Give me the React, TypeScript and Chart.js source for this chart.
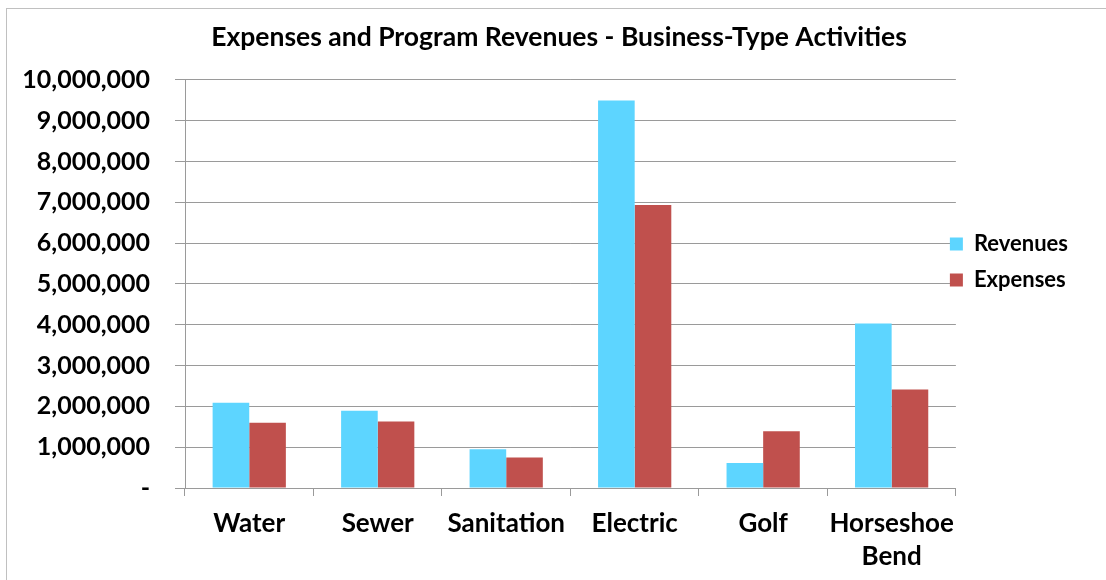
import React, { useEffect, useRef } from "react";
import { Chart, registerables } from "chart.js";

Chart.register(...registerables);

const categories: (string | string[])[] = ["Water", "Sewer", "Sanitation", "Electric", "Golf", ["Horseshoe", "Bend"]];
const revenues = [2090000, 1890000, 950000, 9490000, 610000, 4030000];
const expenses = [1600000, 1630000, 745000, 6930000, 1390000, 2410000];
const titleText = "Expenses and Program Revenues - Business-Type Activities";
const FONT = "Lato, 'Open Sans', sans-serif";

const legendShift = {
  id: "legendShift",
  afterLayout(chart: any) {
    const lg = chart.legend;
    if (!lg) return;
    lg.left -= 20;
    lg.right -= 20;
    lg.top -= 28;
    lg.bottom -= 28;
  },
};

export default function App() {
  const ref = useRef<HTMLCanvasElement>(null);
  useEffect(() => {
    document.body.style.margin = "0";
    const ctx = ref.current!;
    const chart = new Chart(ctx, {
      type: "bar",
      data: {
        labels: categories,
        datasets: [
          { label: "Revenues", data: revenues, backgroundColor: "#5DD5FF", borderWidth: 0 },
          { label: "Expenses", data: expenses, backgroundColor: "#C0504D", borderWidth: 0 },
        ],
      },
      plugins: [legendShift],
      options: {
        animation: false,
        responsive: false,
        maintainAspectRatio: false,
        layout: { padding: { left: 20, right: 8, top: 0, bottom: 0 } },
        datasets: { bar: { categoryPercentage: 0.57, barPercentage: 1 } },
        plugins: {
          title: {
            display: true,
            text: titleText,
            color: "#000",
            font: { family: FONT, size: 26.5, weight: "bold", lineHeight: 1.2 },
            padding: { top: 22, bottom: 26 },
          },
          legend: {
            position: "right",
            align: "center",
            labels: {
              color: "#000",
              boxWidth: 13,
              boxHeight: 13,
              padding: 14,
              font: { family: FONT, size: 22, weight: "bold" },
            },
          },
          tooltip: { enabled: false },
        },
        scales: {
          x: {
            offset: true,
            afterFit: (s: any) => { s.height = 92; },
            grid: { display: true, offset: true, drawOnChartArea: false, tickLength: 8, color: "#9a9a9a" },
            border: { display: true, color: "#9a9a9a" },
            ticks: {
              color: "#000",
              padding: 11,
              maxRotation: 0,
              autoSkip: false,
              font: { family: FONT, size: 26, weight: "bold", lineHeight: 1.27 },
            },
          },
          y: {
            min: 0,
            max: 10000000,
            afterFit: (s: any) => { s.width = 165; },
            grid: { color: "#9a9a9a", tickLength: 10 },
            border: { display: true, color: "#9a9a9a" },
            ticks: {
              stepSize: 1000000,
              color: "#000",
              padding: 25,
              font: { family: FONT, size: 25, weight: "bold" },
              callback: (v: any) => (Number(v) === 0 ? "-" : Number(v).toLocaleString("en-US")),
            },
          },
        },
      },
    });
    return () => chart.destroy();
  }, []);
  return (
    <div style={{ position: "relative", width: 1106, height: 580, overflow: "hidden", background: "#fff" }}>
      <div style={{ position: "absolute", left: 6, top: 8, width: 1200, height: 700, borderLeft: "1px solid #c0c0c0", borderTop: "1px solid #c0c0c0" }} />
      <canvas ref={ref} width={1106} height={580} style={{ position: "absolute", left: 0, top: 0 }} />
    </div>
  );
}
